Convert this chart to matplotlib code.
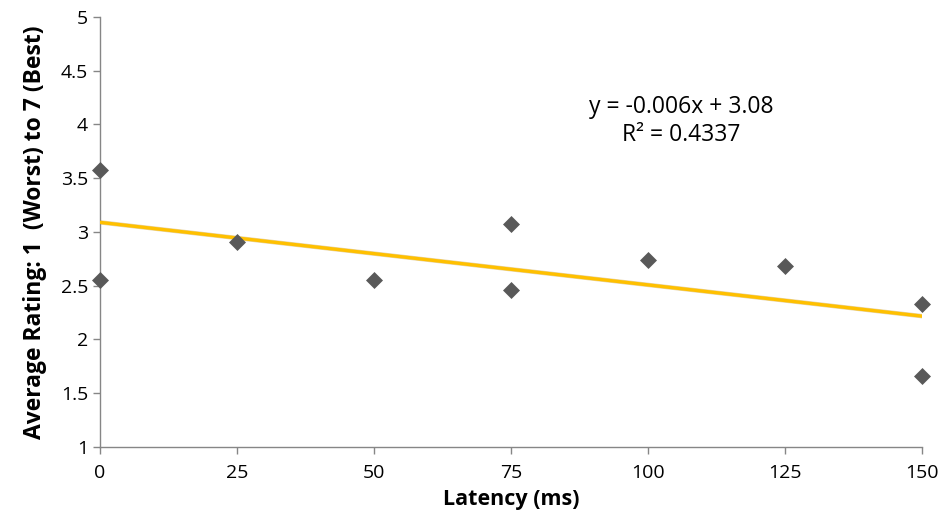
import numpy as np
import matplotlib.pyplot as plt

plt.rcParams['font.family'] = ['Open Sans', 'DejaVu Sans']

latency = [0, 0, 25, 50, 75, 75, 100, 125, 150, 150]
rating = [3.58, 2.55, 2.91, 2.55, 3.07, 2.46, 2.74, 2.68, 2.33, 1.66]
x_ticks = [0, 25, 50, 75, 100, 125, 150]
y_ticks = [1, 1.5, 2, 2.5, 3, 3.5, 4, 4.5, 5]
y_tick_labels = ['1', '1.5', '2', '2.5', '3', '3.5', '4', '4.5', '5']
eq_text = "y = -0.006x + 3.08\nR² = 0.4337"

fig = plt.figure(figsize=(9.4, 5.14), dpi=100, facecolor="white")
ax = fig.add_axes([0.1064, 0.1304, 0.8746, 0.8366])

# linear trendline
slope, icpt = np.polyfit(latency, rating, 1)
xl = np.array([min(latency), max(latency)])
ax.plot(xl, slope * xl + icpt, color="#B8860B", lw=3.2, alpha=0.35, zorder=2)
ax.plot(xl, slope * xl + icpt, color="#FFC000", lw=2.4, zorder=3)

ax.scatter(latency, rating, marker="D", s=75, color="#595959", zorder=4,
           linewidths=0, clip_on=False)

ax.text(106, 4.03, eq_text, ha="center", va="center", fontsize=16.5, linespacing=1.2)

ax.set_xlim(0, 150)
ax.set_ylim(1, 5)
ax.set_xticks(x_ticks)
ax.set_yticks(y_ticks)
ax.set_yticklabels(y_tick_labels)
for s in ["top", "right"]:
    ax.spines[s].set_visible(False)
for s in ["left", "bottom"]:
    ax.spines[s].set_color("#868686")
    ax.spines[s].set_linewidth(1.0)
ax.tick_params(colors="#868686", labelcolor="black", labelsize=14, length=5, width=1)
ax.tick_params(axis="x", pad=7)
ax.set_xlabel("Latency (ms)", fontsize=15.5, fontweight="bold", labelpad=5)
ax.set_ylabel("Average Rating: 1  (Worst) to 7 (Best)", fontsize=16.5, fontweight="bold", labelpad=10)
ax.patch.set_visible(False)

plt.savefig("out.png", dpi=100, facecolor="white")
